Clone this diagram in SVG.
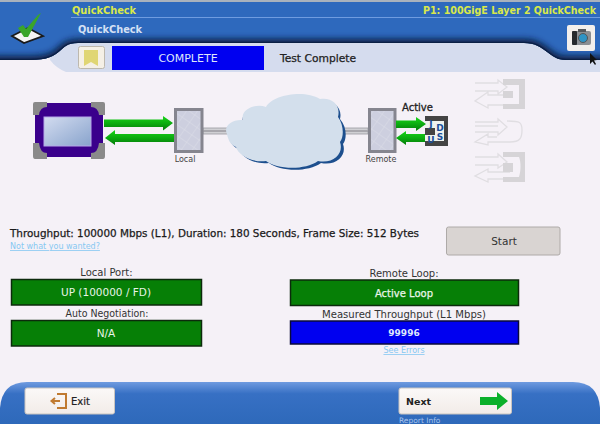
<svg xmlns="http://www.w3.org/2000/svg" width="600" height="424" viewBox="0 0 600 424">
<defs>
<linearGradient id="ftr" x1="0" y1="0" x2="0" y2="1"><stop offset="0" stop-color="#6f9be0"/><stop offset="0.28" stop-color="#3770c4"/><stop offset="1" stop-color="#2e69ba"/></linearGradient>
<linearGradient id="grn" x1="0" y1="0" x2="0" y2="1"><stop offset="0" stop-color="#19d619"/><stop offset="0.55" stop-color="#0aa80f"/><stop offset="1" stop-color="#057a0a"/></linearGradient>
<linearGradient id="scr" x1="0" y1="0" x2="1" y2="1"><stop offset="0" stop-color="#d3dcf0"/><stop offset="1" stop-color="#88a3cc"/></linearGradient>
<linearGradient id="btn" x1="0" y1="0" x2="0" y2="1"><stop offset="0" stop-color="#fbf9f8"/><stop offset="1" stop-color="#f2ece8"/></linearGradient>
<pattern id="mesh" width="9" height="9" patternUnits="userSpaceOnUse" patternTransform="rotate(35)"><rect width="9" height="9" fill="#cdcfdf"/><path d="M0 0H9M0 0V9" stroke="#dcdde8" stroke-width="1"/></pattern>
<clipPath id="hdrclip"><path d="M0 2H600V60H566C548 60 546 43 524 43H78C56 43 66 60 30 60H0Z"/></clipPath>
<filter id="soft" x="-5%" y="-100%" width="110%" height="300%"><feGaussianBlur stdDeviation="3"/></filter>
</defs>
<style>
text{font-family:"DejaVu Sans","Liberation Sans",sans-serif}
.lbl{font-size:10px;fill:#333;text-anchor:middle}
.val{font-size:10.500px;fill:#e8f4e8;text-anchor:middle}
.stat{stroke:#0c2a0c;stroke-width:1.500}
.box{fill:url(#mesh);stroke:#85858f;stroke-width:3}
.small{font-size:8px;fill:#444;text-anchor:middle}
.link{font-size:8px;fill:#86c8f2;text-decoration:underline}
.ghost{fill:none;stroke:#e0dee2;stroke-width:1.300}
.ghostf{fill:#d6d4d7}
.pipe{fill:#d0d0d4;stroke:#9a9aa0;stroke-width:0.800}
.btn{fill:url(#btn);stroke:#c9c4c0;stroke-width:1}
.head{font-size:9.800px;font-weight:bold}
.jd{font-size:9px;font-weight:bold;fill:#1a4f9a;text-anchor:middle}
</style>
<rect width="600" height="424" fill="#f5f1f7"/>

<g id="header">
<rect x="0" y="0" width="600" height="3" fill="#a9b2bd"/>
<path d="M50 43H600V72H66Q56 68 50 60Z" fill="#d5dcee"/>
<path d="M0 2H600V60H566C548 60 546 43 524 43H78C56 43 66 60 30 60H0Z" fill="#2e69bd"/>
<g clip-path="url(#hdrclip)">
<path d="M-10 60H30C66 60 56 43 78 43H524C546 43 548 60 566 60H610" fill="none" stroke="#071c40" stroke-width="8" filter="url(#soft)"/>
<path d="M-10 60H30C66 60 56 43 78 43H524C546 43 548 60 566 60H610" fill="none" stroke="#0a2045" stroke-width="2.500"/>
</g>
<path d="M71 17.500H600" stroke="#6f9ce0" stroke-width="1"/>
<text class="head" x="72" y="13.500" fill="#d9e84a">QuickCheck</text>
<text class="head" x="423" y="13.500" fill="#d9e84a" textLength="173" lengthAdjust="spacingAndGlyphs">P1: 100GigE Layer 2 QuickCheck</text>
<text class="head" x="78" y="32.500" fill="#d4e0f4">QuickCheck</text>
<path d="M12 36L28 28L43 36L24 43Z" fill="#f4f4f4" stroke="#1a1a1a" stroke-width="1.800"/>
<path d="M18 28L23 25L26 29L38 15L41 13L28 37L24 37Z" fill="#3aa52a"/>
</g>

<g id="status-bar">
<rect x="78.500" y="46.500" width="26" height="22" rx="2" fill="#f5f0e6" stroke="#bdb8ae"/>
<path d="M84 50H98V66L91 62L84 66Z" fill="#e0d674"/>
<rect x="112" y="46" width="152" height="24" fill="#0000f0"/>
<text x="188" y="61.500" font-size="11" fill="#dfe6fb" text-anchor="middle">COMPLETE</text>
<text x="280" y="61.500" font-size="10.500" fill="#222" stroke="#222" stroke-width="0.250" textLength="76" lengthAdjust="spacingAndGlyphs">Test Complete</text>
</g>

<g id="camera">
<rect x="567" y="25" width="28" height="26" rx="2" fill="#f3efec"/>
<rect x="572" y="31" width="19" height="14" rx="2" fill="#8b8e92"/>
<rect x="572" y="31" width="5" height="14" rx="1" fill="#26282b"/>
<rect x="578" y="29" width="8" height="3" fill="#55585c"/>
<circle cx="583" cy="38" r="4.500" fill="#2f93c4" stroke="#555" stroke-width="1"/>
<path d="M590 53V64L592.500 61.500L595 65L596 64L594 60.500L597 60Z" fill="#111"/>
</g>

<g id="connectors">
<rect class="pipe" x="203" y="128" width="27" height="2.500"/>
<rect class="pipe" x="203" y="131.500" width="27" height="2.500"/>
<rect class="pipe" x="341" y="128" width="27" height="2.500"/>
<rect class="pipe" x="341" y="131.500" width="27" height="2.500"/>
<path d="M104 119.500H163V116L173 123L163 130.500V127H104Z" fill="url(#grn)"/>
<path d="M174 134V142H115V145L105 138L115 130V134Z" fill="url(#grn)"/>
</g>

<g id="tester">
<rect x="35" y="103" width="68" height="54" rx="7" fill="#3a008c"/>
<rect x="44" y="117" width="47" height="29" fill="url(#scr)" stroke="#b5a8e8" stroke-width="1"/>
<path d="M33 104Q33 102 35 102H47V107Q40 107 39 115H33Z" fill="#8a8a8a"/>
<path d="M105 104Q105 102 103 102H91V107Q98 107 99 115H105Z" fill="#8a8a8a"/>
<path d="M33 156Q33 159 35 159H47V153Q40 153 39 143H33Z" fill="#8a8a8a"/>
<path d="M105 156Q105 159 103 159H91V153Q98 153 99 143H105Z" fill="#8a8a8a"/>
</g>

<g id="local">
<rect class="box" x="175.500" y="109.500" width="26.500" height="42"/>
<text class="small" x="185" y="161.500">Local</text>
</g>

<g id="cloud">
<path d="M229 138C225 129 232 122 243 122C240 111 256 105 266 109C272 97 304 91 320 101C332 99 343 107 340 119C347 127 347 139 343 144C347 155 337 166 321 163C307 173 279 171 269 163C255 165 241 157 239 149C233 147 231 143 229 138Z" fill="#1d4f8e"/>
<path d="M227 134C223 126 232 119 243 120C240 109 256 103 266 107C272 95 304 89 320 99C332 97 341 105 338 117C344 125 344 137 340 142C344 153 334 164 318 161C304 171 276 169 266 161C252 163 238 155 236 147C230 145 228 139 227 134Z" fill="#d3dfec"/>
</g>

<g id="remote">
<rect class="box" x="369.500" y="109.500" width="25.500" height="42"/>
<text class="small" x="381" y="161.500">Remote</text>
</g>

<g id="jdsu">
<text x="402" y="110.500" font-size="10" fill="#222" stroke="#222" stroke-width="0.300">Active</text>
<rect x="425" y="116" width="23" height="30" fill="#444"/>
<path d="M425 121H444V141H425Z" fill="#eef2ee"/>
<rect x="425" y="128" width="10" height="7" fill="#444"/>
<text class="jd" x="431" y="127">J</text>
<text class="jd" x="440" y="131">D</text>
<text class="jd" x="431" y="142.500">U</text>
<text class="jd" x="440" y="140">S</text>
<path d="M396 120.500H416V117L426 124L416 131V128H396Z" fill="url(#grn)"/>
<path d="M425 134V142H406V145L396 138L406 131V134Z" fill="url(#grn)"/>
</g>

<g id="option-jdsu">
<path class="ghost" d="M475 83H498V80L507 87L498 94V91H475M510 95H488V92L475 101L488 108V105H503"/>
<path class="ghostf" d="M503 79H525V109H503V104H519V85H503Z"/>
<rect class="ghostf" x="503" y="91" width="10" height="7"/>
</g>
<g id="option-loop">
<path class="ghost" d="M475 122H498V119L507 127L498 135V132H475M475 126H498M497 137H488V134L475 142L488 145V142H510C520 142 522 138 522 130C522 122 520 121 507 121"/>
</g>
<g id="option-box">
<path class="ghost" d="M475 157H498V154L507 162L498 168V165H475M510 172H488V169L475 176L488 182V179H503"/>
<path class="ghostf" d="M503 152H525V182H503V177H519C521 170 521 162 519 157H503Z"/>
<rect class="ghostf" x="503" y="163" width="10" height="9"/>
</g>

<g id="summary">
<text x="10" y="237" font-size="10" fill="#1a1a1a" stroke="#1a1a1a" stroke-width="0.250" textLength="409" lengthAdjust="spacingAndGlyphs">Throughput: 100000 Mbps (L1), Duration: 180 Seconds, Frame Size: 512 Bytes</text>
<text class="link" x="10" y="249">Not what you wanted?</text>
</g>

<g id="start">
<rect x="446.500" y="227" width="113.500" height="28" rx="2" fill="#d9d4d2" stroke="#aeaaa8"/>
<text x="504" y="245" font-size="10.500" fill="#333" text-anchor="middle">Start</text>
</g>

<g id="local-port">
<text class="lbl" x="106.500" y="276">Local Port:</text>
<rect class="stat" x="11.500" y="279.500" width="190" height="25.500" fill="#067f06"/>
<text class="val" x="106" y="296">UP (100000 / FD)</text>
</g>
<g id="auto-negotiation">
<text class="lbl" x="107" y="317" textLength="83" lengthAdjust="spacingAndGlyphs">Auto Negotiation:</text>
<rect class="stat" x="11.500" y="320.500" width="190" height="25.500" fill="#067f06"/>
<text class="val" x="106" y="337">N/A</text>
</g>
<g id="remote-loop">
<text class="lbl" x="404" y="277">Remote Loop:</text>
<rect class="stat" x="290.500" y="280" width="228" height="25.500" fill="#067f06"/>
<text class="val" x="404" y="296.500" stroke="#e8f4e8" stroke-width="0.250" style="font-size:10px">Active Loop</text>
</g>
<g id="measured">
<text class="lbl" x="404" y="318" textLength="164" lengthAdjust="spacingAndGlyphs">Measured Throughput (L1 Mbps)</text>
<rect x="290.500" y="321" width="228" height="23" fill="#0000f0" stroke="#0a0a3a" stroke-width="1.500"/>
<text class="val" x="404" y="336" font-weight="bold" style="fill:#dfe6fb;font-size:9px">99996</text>
<text class="link" x="404" y="353" text-anchor="middle">See Errors</text>
</g>

<g id="footer">
<path d="M0 424V408Q2 382 27 382H573Q598 382 600 408V424Z" fill="url(#ftr)"/>
</g>
<g id="exit">
<rect class="btn" x="25" y="388" width="89.500" height="26" rx="2"/>
<path d="M57 394H66V408H57M52 401H60M55 398L51.500 401L55 404" fill="none" stroke="#c07a30" stroke-width="2"/>
<text x="71" y="405" font-size="10" fill="#222" stroke="#222" stroke-width="0.200">Exit</text>
</g>
<g id="next">
<rect class="btn" x="399" y="388" width="112.500" height="26" rx="2"/>
<text x="406" y="405" font-size="9.500" font-weight="bold" fill="#222">Next</text>
<path d="M480 397H497V392L508 401L497 410V405H480Z" fill="#0bb02a"/>
<text x="399" y="423" font-size="7.500" fill="#a9c4ec">Report Info</text>
</g>
</svg>
